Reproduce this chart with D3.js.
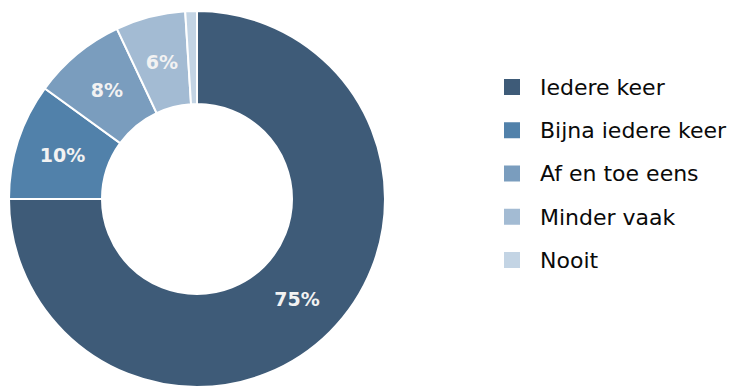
<!DOCTYPE html>
<html>
<head>
<meta charset="utf-8">
<script src="https://cdn.jsdelivr.net/npm/d3@7"></script>
<style>
  body { margin: 0; background: #fff; }
  svg { display: block; }
</style>
</head>
<body>
<div id="chartDiv"></div>
<script>
var categories = ["Iedere keer", "Bijna iedere keer", "Af en toe eens", "Minder vaak", "Nooit"];
var values = [75, 10, 8, 6, 1];
var labels = ["75%", "10%", "8%", "6%", ""];
var colors = ["#3e5b78", "#5181aa", "#7a9dbe", "#a3bbd3", "#c3d4e4"];

var width = 749, height = 386;
var cx = 197, cy = 199, rOuter = 188, rInner = 95;

var svg = d3.select("#chartDiv").append("svg")
    .attr("width", width)
    .attr("height", height);

var data = categories.map(function(c, i) { return {name: c, value: values[i], label: labels[i]}; });

var pie = d3.pie().sort(null).value(function(d) { return d.value; });
var arc = d3.arc().innerRadius(rInner).outerRadius(rOuter);
var labelArc = d3.arc().innerRadius((rInner + rOuter) / 2).outerRadius((rInner + rOuter) / 2);

var g = svg.append("g").attr("transform", "translate(" + cx + "," + cy + ")");

var slices = g.selectAll(".slice").data(pie(data)).enter().append("g").attr("class", "slice");

slices.append("path")
    .attr("d", arc)
    .attr("fill", function(d, i) { return colors[i]; })
    .attr("stroke", "#fff")
    .attr("stroke-width", 2);

slices.append("text")
    .attr("transform", function(d) { return "translate(" + labelArc.centroid(d) + ")"; })
    .attr("text-anchor", "middle")
    .attr("dy", "0.36em")
    .style("font-family", "'DejaVu Sans', Verdana, sans-serif")
    .style("font-weight", "bold")
    .style("font-size", "19px")
    .attr("fill", "#f2f2f2")
    .text(function(d) { return d.data.label; });

// legend
var legendY = d3.scalePoint().domain(categories).range([87, 260]);

var legend = svg.append("g").selectAll(".legend").data(categories).enter()
    .append("g").attr("class", "legend")
    .attr("transform", function(d) { return "translate(504," + legendY(d) + ")"; });

legend.append("rect")
    .attr("x", 0).attr("y", -8)
    .attr("width", 16).attr("height", 16)
    .attr("fill", function(d, i) { return colors[i]; });

legend.append("text")
    .attr("x", 36)
    .attr("dy", "0.36em")
    .style("font-family", "'DejaVu Sans', Verdana, sans-serif")
    .style("font-size", "22px")
    .attr("fill", "#0a0a0a")
    .text(function(d) { return d; });
</script>
</body>
</html>
